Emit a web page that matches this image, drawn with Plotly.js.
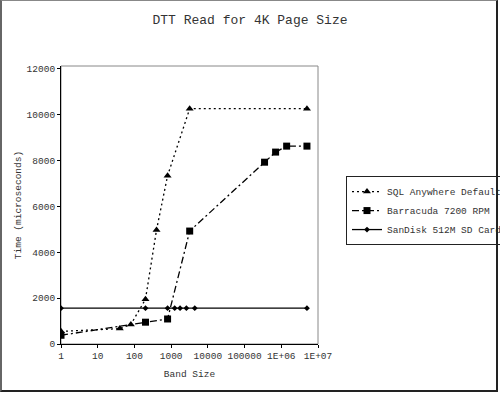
<!DOCTYPE html>
<html>
<head>
<meta charset="utf-8">
<script src="https://cdn.plot.ly/plotly-3.0.1.min.js"></script>
<style>
html,body{margin:0;padding:0;background:#fff;}
#wrap{position:relative;width:500px;height:393px;overflow:hidden;}
#chart{width:500px;height:393px;}
#frame{position:absolute;left:0;top:0;width:498px;height:392px;box-sizing:border-box;
  border-top:1px solid #888;border-left:2px solid #666;border-right:2px solid #222;border-bottom:2px solid #222;pointer-events:none;}
</style>
</head>
<body>
<div id="wrap"><div id="chart"></div><div id="frame"></div></div>
<script>
// Data
const seriesNames = ["SQL Anywhere Default", "Barracuda 7200 RPM", "SanDisk 512M SD Card"];
const sqlX = [1, 40, 80, 200, 400, 800, 3200, 5000000];
const sqlY = [550, 670, 850, 1950, 4970, 7330, 10250, 10250];
const barX = [1, 200, 800, 3200, 350000, 700000, 1400000, 5000000];
const barY = [380, 950, 1090, 4920, 7920, 8360, 8620, 8620];
const sdX = [1, 200, 800, 1250, 1750, 2600, 4400, 5000000];
const sdY = [1560, 1560, 1560, 1560, 1560, 1560, 1560, 1560];
const xTickVals = [1, 10, 100, 1000, 10000, 100000, 1000000, 10000000];
const xTickText = ["1", "10", "100", "1000", "10000", "100000", "1E+06", "1E+07"];
const yTickVals = [0, 2000, 4000, 6000, 8000, 10000, 12000];
const yTickText = ["0", "2000", "4000", "6000", "8000", "10000", "12000"];

const FONT = "Liberation Mono, Courier New, monospace";
const TXT = "#333";

const traces = [
  {x: sqlX, y: sqlY, name: seriesNames[0], type: "scatter", mode: "lines+markers",
   line: {color: "#000", width: 1.3, dash: "2px,3px"},
   marker: {symbol: "triangle-up", size: 7, color: "#000"}},
  {x: barX, y: barY, name: seriesNames[1], type: "scatter", mode: "lines+markers",
   line: {color: "#000", width: 1.3, dash: "7px,3px,2px,3px"},
   marker: {symbol: "square", size: 7, color: "#000"}},
  {x: sdX, y: sdY, name: seriesNames[2], type: "scatter", mode: "lines+markers",
   line: {color: "#000", width: 1.3},
   marker: {symbol: "diamond", size: 4.5, color: "#000"}}
];

const layout = {
  width: 500, height: 393,
  margin: {l: 61, r: 182, t: 66, b: 49, pad: 0, autoexpand: false},
  paper_bgcolor: "#fff", plot_bgcolor: "#fff",
  font: {family: FONT, size: 9.5, color: TXT},
  title: {text: "DTT Read for 4K Page Size", font: {family: FONT, size: 13, color: TXT},
          x: 0.5, xanchor: "center", y: 0.95, yanchor: "middle", yref: "container"},
  showlegend: true,
  legend: {xref: "container", yref: "container", x: 0.692, xanchor: "left", y: 0.552, yanchor: "top",
           bordercolor: "#222", borderwidth: 1, bgcolor: "#fff",
           font: {family: FONT, size: 9.5, color: TXT}, tracegroupgap: 0, itemwidth: 30},
  xaxis: {type: "log", range: [0, 7], tickmode: "array", tickvals: xTickVals, ticktext: xTickText,
          ticks: "outside", ticklen: 3, tickcolor: "#000", showgrid: false, zeroline: false,
          showline: true, linecolor: "#000", linewidth: 1,
          tickfont: {family: FONT, size: 9.5, color: TXT},
          title: {text: "Band Size", font: {family: FONT, size: 9.5, color: TXT}, standoff: 8}},
  yaxis: {range: [0, 12110], tickmode: "array", tickvals: yTickVals, ticktext: yTickText,
          ticks: "outside", ticklen: 3, tickcolor: "#000", showgrid: false, zeroline: false,
          showline: true, linecolor: "#000", linewidth: 1,
          tickfont: {family: FONT, size: 9.5, color: TXT},
          title: {text: "Time (microseconds)", font: {family: FONT, size: 9.5, color: TXT}, standoff: 3}},
  shapes: [{type: "rect", xref: "paper", yref: "paper", x0: 0, x1: 1, y0: 0, y1: 1,
            line: {color: "#888", width: 1}, layer: "below"}]
};

Plotly.newPlot("chart", traces, layout, {displayModeBar: false, staticPlot: true});
</script>
</body>
</html>
